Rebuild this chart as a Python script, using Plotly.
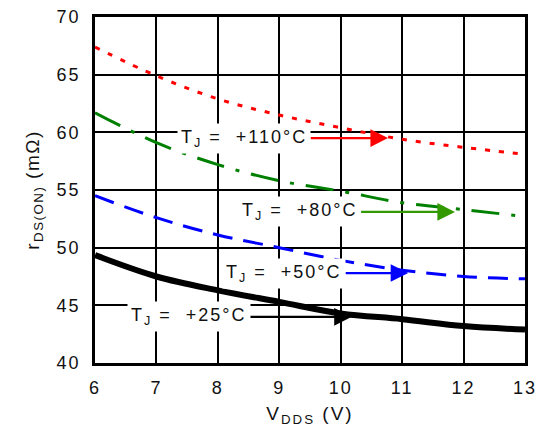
import plotly.graph_objects as go

vdds = [6, 7, 8, 9, 10, 11, 12, 13]
r_110 = [67.4, 64.9, 62.9, 61.5, 60.4, 59.4, 58.7, 58.1]
r_80 = [61.7, 59.1, 57.2, 55.8, 54.9, 53.9, 53.3, 52.7]
r_50 = [54.5, 52.6, 51.1, 50.0, 48.9, 48.05, 47.5, 47.3]
r_25 = [49.35, 47.5, 46.3, 45.3, 44.3, 43.8, 43.2, 42.9]
y_ticks = [40, 45, 50, 55, 60, 65, 70]

labels = ["T<sub>J</sub> =  +110°C", "T<sub>J</sub> =  +80°C",
          "T<sub>J</sub> =  +50°C", "T<sub>J</sub> =  +25°C"]

FONT = "Liberation Sans, Arial, sans-serif"
TXT = "#111111"


def spaced(s, px):
    return '<span style="letter-spacing:%spx">%s</span>' % (px, s)


fig = go.Figure()
fig.add_trace(go.Scatter(x=vdds, y=r_110, mode="lines", line=dict(color="#ff0000", width=3, dash="5px,9px", shape="spline"), showlegend=False))
fig.add_trace(go.Scatter(x=vdds, y=r_80, mode="lines", line=dict(color="#008000", width=3, dash="28px,12px,4px,12px", shape="spline"), showlegend=False))
fig.add_trace(go.Scatter(x=vdds, y=r_50, mode="lines", line=dict(color="#0000ff", width=3, dash="20px,11px", shape="spline"), showlegend=False))
fig.add_trace(go.Scatter(x=vdds, y=r_25, mode="lines", line=dict(color="#000000", width=6, shape="spline"), showlegend=False))

ann = [
    (labels[0], 10.77, 59.5, 8.43, 59.5, "#ff0000"),
    (labels[1], 11.86, 53.1, 9.33, 53.1, "#339900"),
    (labels[2], 11.10, 47.8, 9.08, 47.8, "#0000ff"),
    (labels[3], 10.18, 44.0, 7.53, 44.0, "#000000"),
]
for text, x, y, axv, ayv, col in ann:
    fig.add_annotation(x=x, y=y, ax=axv, ay=ayv, xref="x", yref="y", axref="x", ayref="y",
                       text=spaced(text, 2), showarrow=True, arrowhead=2, arrowsize=1.6, arrowwidth=2.2,
                       arrowcolor=col, bgcolor="white", borderpad=3,
                       font=dict(family=FONT, size=18, color=TXT))

fig.update_xaxes(range=[6, 13], tickvals=vdds, ticktext=[spaced(str(v), 2) for v in vdds],
                 showgrid=True, gridcolor="black", gridwidth=2,
                 showline=True, linecolor="black", linewidth=2.5, mirror=True, zeroline=False,
                 ticks="", ticklabelstandoff=7, automargin=False, ticklabeloverflow="allow",
                 tickfont=dict(family=FONT, size=18, color=TXT),
                 title=dict(text=spaced("V<sub>DDS</sub> (V)", 2), font=dict(family=FONT, size=19, color=TXT), standoff=10))
fig.update_yaxes(range=[40, 70], tickvals=y_ticks, ticktext=[spaced(str(v), 2) for v in y_ticks],
                 showgrid=True, gridcolor="black", gridwidth=2,
                 showline=True, linecolor="black", linewidth=2.5, mirror=True, zeroline=False,
                 ticks="", ticklabelstandoff=8, automargin=False, ticklabeloverflow="allow",
                 tickfont=dict(family=FONT, size=18, color=TXT),
                 title=dict(text=spaced("r<sub>DS(ON)</sub> (mΩ)", 1.5), font=dict(family=FONT, size=19, color=TXT), standoff=12))

fig.update_layout(width=537, height=430, margin=dict(l=95, r=12, t=17, b=67),
                  plot_bgcolor="white", paper_bgcolor="white")

fig.write_html("out.html", config={"displayModeBar": False},
               post_script="document.body.style.margin='0';document.body.style.overflow='hidden';")
